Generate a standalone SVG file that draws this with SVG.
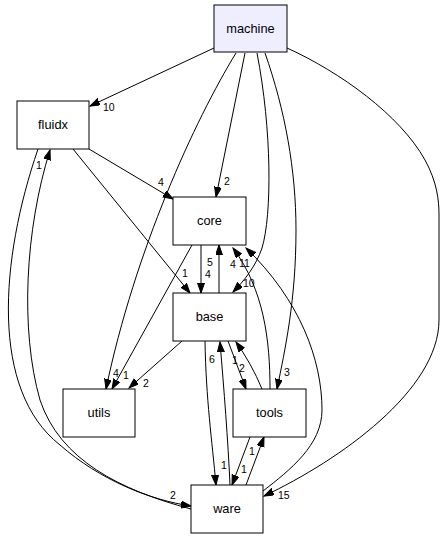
<svg xmlns="http://www.w3.org/2000/svg" width="440" height="539" viewBox="0 0 440 539">
<style>
.n rect{fill:#ffffff;stroke:#000000;stroke-width:1}
.n text{font-family:"Liberation Sans",Arial,sans-serif;font-size:12.8px;text-anchor:middle;fill:#000000}
.e path{fill:none;stroke:#000000;stroke-width:1;marker-end:url(#ah)}
.e text{font-family:"Liberation Sans",Arial,sans-serif;font-size:10.5px;fill:#000000}
</style>
<defs>
<marker id="ah" markerUnits="userSpaceOnUse" markerWidth="11" markerHeight="8" refX="10" refY="3.5" orient="auto">
<path d="M0,0 L10,3.5 L0,7 z" fill="#000000" stroke="#000000" stroke-width="1"/>
</marker>
</defs>
<rect width="440" height="539" fill="#ffffff"/>
<g id="edges" class="e">
<path d="M214,48 L90,106"/>
<text x="103" y="111">10</text>
<path d="M236,53 C195,120 135,250 106,389"/>
<text x="113" y="377">4</text>
<path d="M245,53 L216,197"/>
<text x="224" y="185">2</text>
<path d="M257,53 C272,130 272,215 262,248 C256,266 244,281 233,292"/>
<text x="243" y="287">10</text>
<path d="M265,53 C285,110 296,170 296,230 C296,300 285,350 277,389"/>
<text x="284" y="376">3</text>
<path d="M287,48 C340,72 400,115 425,160 C437,182 439,200 439,215 L439,320 C439,390 340,460 264,496"/>
<text x="278" y="499">15</text>
<path d="M89,149 L173,199"/>
<text x="158" y="186">4</text>
<path d="M73,149 L190,293"/>
<text x="182" y="277">1</text>
<path d="M38,149 C0,260 -10,390 60,445 C100,480 150,500 191,506"/>
<text x="170" y="499">2</text>
<path d="M191,509 C120,490 60,460 40,400 C20,330 25,230 50,150"/>
<text x="36" y="169">1</text>
<path d="M201,245 L201,293"/>
<text x="205" y="278">4</text>
<path d="M219,293 L219,245"/>
<text x="207" y="266">5</text>
<path d="M192,245 L112,389"/>
<text x="123" y="379">1</text>
<path d="M270,389 C270,340 264,290 233,248"/>
<text x="230" y="268">4</text>
<path d="M263,491 C290,470 322,445 322,410 C322,360 300,300 246,248"/>
<text x="239" y="267">11</text>
<path d="M182,341 L129,388"/>
<text x="143" y="387">2</text>
<path d="M205,341 C206,400 212,440 216,485"/>
<text x="221" y="469">1</text>
<path d="M230,485 C228,440 224,390 220,342"/>
<text x="209" y="363">6</text>
<path d="M228,341 L246,389"/>
<text x="239" y="372">2</text>
<path d="M262,389 C255,372 246,356 236,342"/>
<text x="232" y="364">1</text>
<path d="M250,437 L232,485"/>
<text x="241" y="473">1</text>
<path d="M246,485 L264,437"/>
<text x="249" y="455">1</text>
</g>
<g id="machine" class="n"><rect x="214" y="5" width="73" height="47" style="fill:#eeeeff"/><text x="250.5" y="33">machine</text></g>
<g id="fluidx" class="n"><rect x="17" y="101" width="72" height="48"/><text x="53" y="129">fluidx</text></g>
<g id="core" class="n"><rect x="173" y="197" width="73" height="48"/><text x="209.5" y="225">core</text></g>
<g id="base" class="n"><rect x="173" y="293" width="73" height="48"/><text x="209.5" y="321">base</text></g>
<g id="utils" class="n"><rect x="63" y="389" width="72" height="48"/><text x="99" y="417">utils</text></g>
<g id="tools" class="n"><rect x="233" y="389" width="73" height="48"/><text x="269.5" y="417">tools</text></g>
<g id="ware" class="n"><rect x="191" y="485" width="72" height="48"/><text x="227" y="513">ware</text></g>
</svg>
